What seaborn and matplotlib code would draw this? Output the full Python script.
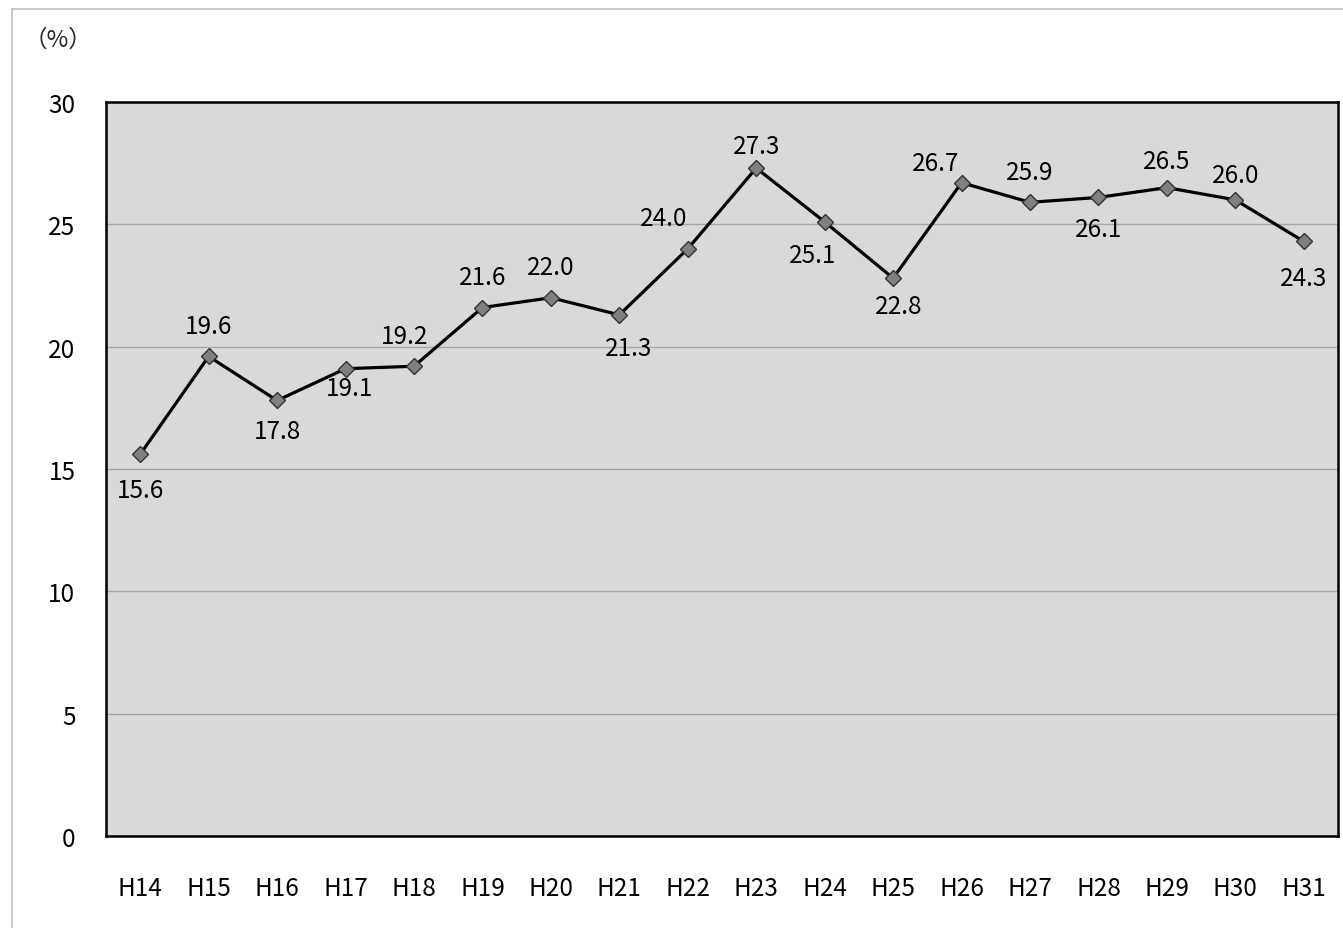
import matplotlib
matplotlib.use('Agg')
import matplotlib.pyplot as plt
import seaborn as sns
import pandas as pd
from matplotlib.lines import Line2D

# データ
nendo = ['H14', 'H15', 'H16', 'H17', 'H18', 'H19', 'H20', 'H21', 'H22',
         'H23', 'H24', 'H25', 'H26', 'H27', 'H28', 'H29', 'H30', 'H31']
wariai = [15.6, 19.6, 17.8, 19.1, 19.2, 21.6, 22.0, 21.3, 24.0,
          27.3, 25.1, 22.8, 26.7, 25.9, 26.1, 26.5, 26.0, 24.3]
y_ticks = [0, 5, 10, 15, 20, 25, 30]

# ラベル位置 (dx, dy) in points
label_offsets = [(0, -26), (0, 22), (0, -22), (3, -14), (-7, 22), (0, 22),
                 (0, 22), (7, -24), (-17, 22), (0, 16), (-9, -24), (4, -20),
                 (-19, 14), (0, 22), (0, -23), (0, 19), (0, 18), (0, -26)]

sns.set_style("white")
plt.rcParams['font.family'] = ['Noto Sans CJK JP', 'DejaVu Sans']

fig = plt.figure(figsize=(13.43, 9.29), dpi=100)
ax = fig.add_axes([106 / 1343, 1 - 837 / 929, 1232 / 1343, 734 / 929])
ax.set_facecolor('#D9D9D9')

df = pd.DataFrame({'年度': nendo, '割合': wariai})
sns.lineplot(data=df, x='年度', y='割合', sort=False, ax=ax, color='black',
             linewidth=2.3, marker='D', markersize=8.5,
             markerfacecolor='#808080', markeredgecolor='#333333',
             markeredgewidth=1)

for i, (v, (dx, dy)) in enumerate(zip(wariai, label_offsets)):
    ax.annotate(f'{v:.1f}', (i, v), xytext=(dx, dy), textcoords='offset points',
                ha='center', va='center', fontsize=17.5, color='black')

ax.set_xlim(-0.5, len(nendo) - 0.5)
ax.set_ylim(0, 30)
ax.set_yticks(y_ticks)
ax.yaxis.grid(True, color='#A6A6A6', linewidth=1)
ax.xaxis.grid(False)
ax.set_axisbelow(True)
ax.tick_params(axis='y', length=0, pad=22, labelsize=17.5, labelcolor='black')
ax.tick_params(axis='x', length=0, pad=28, labelsize=17.5, labelcolor='black')
ax.set_xlabel('')
ax.set_ylabel('')
for s in ax.spines.values():
    s.set_color('black')
    s.set_linewidth(1.8)

fig.text(58 / 1343, 1 - 40 / 929, '（%）', ha='center', va='center', fontsize=17)

# 外枠
fig.add_artist(Line2D([12 / 1343, 1], [1 - 10 / 929, 1 - 10 / 929],
                      color='#BFBFBF', linewidth=1.2))
fig.add_artist(Line2D([12 / 1343, 12 / 1343], [0, 1 - 10 / 929],
                      color='#BFBFBF', linewidth=1.2))

plt.savefig('out.png', dpi=100)
